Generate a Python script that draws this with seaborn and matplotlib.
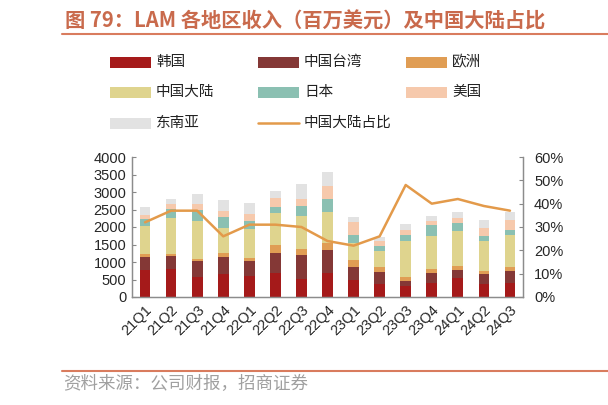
import numpy as np
import pandas as pd
import matplotlib
matplotlib.use("Agg")
import matplotlib.pyplot as plt
from matplotlib.patches import Rectangle
from matplotlib.lines import Line2D
import seaborn as sns

# 季度与各地区收入（百万美元），数值读自原图
quarters = ['21Q1', '21Q2', '21Q3', '21Q4', '22Q1', '22Q2', '22Q3', '22Q4',
            '23Q1', '23Q2', '23Q3', '23Q4', '24Q1', '24Q2', '24Q3']
korea = [785, 813, 574, 660, 612, 679, 507, 679, 478, 383, 306, 392, 545, 364, 392]
taiwan = [344, 354, 450, 488, 412, 584, 699, 661, 383, 325, 144, 307, 221, 306, 364]
europe = [96, 67, 67, 106, 96, 211, 162, 210, 192, 153, 134, 114, 114, 76, 115]
china = [804, 1034, 1081, 717, 813, 928, 957, 871, 478, 450, 1005, 929, 1005, 852, 890]
japan = [191, 249, 316, 326, 249, 182, 287, 383, 239, 153, 172, 315, 220, 144, 162]
usa = [124, 143, 172, 172, 201, 258, 192, 354, 364, 134, 153, 125, 144, 220, 288]
sea = [240, 144, 287, 297, 296, 191, 411, 411, 163, 124, 172, 143, 182, 229, 210]
share_cn = [32, 37, 37, 26, 31, 31, 30, 24, 22, 26, 48, 40, 42, 39, 37]

regions = ['韩国', '中国台湾', '欧洲', '中国大陆', '日本', '美国', '东南亚']
colors = ['#A51A1A', '#843836', '#E09D54', '#DFD48E', '#8BC0B2', '#F6C9AC', '#E2E2E2']
line_color = '#E39A4A'
accent = '#C96A4C'

sns.set_style('white')
plt.rcParams['font.family'] = ['Liberation Sans', 'Noto Sans CJK SC']
cjk = ['Noto Sans CJK SC', 'DejaVu Sans']

W, H = 608, 405
fig = plt.figure(figsize=(W / 100, H / 100), dpi=100)
ax = fig.add_axes([132 / W, 108 / H, 391 / W, 140 / H])

df = pd.DataFrame(dict(zip(regions, [korea, taiwan, europe, china, japan, usa, sea])),
                  index=quarters)
cum = df.cumsum(axis=1)

# 累计值从上往下画，实现堆叠
for reg, col in reversed(list(zip(regions, colors))):
    sns.barplot(x=quarters, y=cum[reg].values, color=col, saturation=1,
                width=0.41, linewidth=0, ax=ax)

ax.set_xlim(-0.5, len(quarters) - 0.5)
ax.set_ylim(0, 4000)
ax.set_yticks(np.arange(0, 4001, 500))
ax.set_xlabel('')
ax.set_ylabel('')
ax.set_xticks(np.arange(len(quarters)))
ax.set_xticklabels(quarters, rotation=45, ha='right', rotation_mode='anchor', fontsize=10.5)
ax.set_xticks(np.arange(-0.5, len(quarters), 1), minor=True)
ax.tick_params(axis='x', which='major', length=0, pad=4)
ax.tick_params(axis='x', which='minor', length=3, direction='in', color='#888888')
ax.tick_params(axis='y', length=3, direction='in', color='#888888', labelsize=10.5, pad=4)

ax2 = ax.twinx()
sns.lineplot(x=np.arange(len(quarters)), y=share_cn, color=line_color, lw=1.8, ax=ax2)
ax2.set_ylim(0, 60)
ax2.set_yticks(np.arange(0, 61, 10))
ax2.set_yticklabels([f'{v}%' for v in range(0, 61, 10)])
ax2.tick_params(axis='y', length=3, direction='in', color='#888888', labelsize=10.5, pad=8)
ax2.set_ylabel('')
ax.set_xlim(-0.5, len(quarters) - 0.5)

for a in (ax, ax2):
    a.spines['top'].set_visible(False)
    for s in ('left', 'right', 'bottom'):
        a.spines[s].set_color('#8C8C8C')
        a.spines[s].set_linewidth(0.9)

# 图例（手工排布）
col_x = [110, 258, 406]
row_y = [62, 92, 123]
for i, (reg, col) in enumerate(zip(regions, colors)):
    r, c = divmod(i, 3)
    x0, y0 = col_x[c], row_y[r]
    fig.add_artist(Rectangle((x0 / W, 1 - (y0 + 5.5) / H), 41 / W, 11 / H,
                             transform=fig.transFigure, color=col, lw=0))
    fig.text((x0 + 46) / W, 1 - y0 / H, reg, family=cjk, fontsize=10.5,
             va='center', ha='left', color='#222222')
x0, y0 = col_x[1], row_y[2]
fig.add_artist(Line2D([x0 / W, (x0 + 41) / W], [1 - y0 / H, 1 - y0 / H],
                      transform=fig.transFigure, color=line_color, lw=1.8))
fig.text((x0 + 46) / W, 1 - y0 / H, '中国大陆占比', family=cjk, fontsize=10.5,
         va='center', ha='left', color='#222222')

# 标题与来源
fig.text(65 / W, 1 - 21 / H, '图 79：LAM 各地区收入（百万美元）及中国大陆占比',
         family=cjk, fontsize=14.6, fontweight='bold', color=accent,
         va='center', ha='left')
fig.add_artist(Line2D([62 / W, 1], [1 - 34 / H, 1 - 34 / H],
                      transform=fig.transFigure, color='#D97C5E', lw=1.5))
fig.add_artist(Line2D([62 / W, 1], [1 - 371 / H, 1 - 371 / H],
                      transform=fig.transFigure, color='#D97C5E', lw=1.5))
fig.text(63 / W, 1 - 384 / H, '资料来源：公司财报，招商证券', family=cjk,
         fontsize=12.6, color='#A0A0A0', va='center', ha='left')

fig.savefig('out.png', dpi=100)
